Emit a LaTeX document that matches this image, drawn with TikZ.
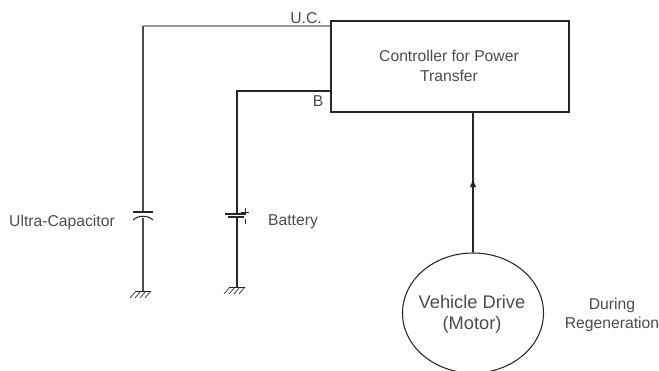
\documentclass[tikz,border=0pt]{standalone}
\usepackage{fontspec}
\setmainfont{Liberation Sans}
\usepackage{tikz}
\usetikzlibrary{shapes.geometric,arrows.meta}
\definecolor{labelgray}{gray}{0.3}
\definecolor{wiregray}{gray}{0.6}
\tikzset{every path/.style={black!85,line width=0.7pt},
  lbl/.style={text=labelgray,font=\fontsize{13.4}{16}\selectfont,align=center,inner sep=0pt},
  plate/.style={line width=0.9pt}}
\newcommand{\grnd}[1]{%
   \begin{scope}[shift={(#1)}]
    \draw[line width=0.6pt] (-8,0) -- (8,0);
    \draw[line width=0.6pt] (-7,0) -- (-13,7);
    \draw[line width=0.6pt] (-2,0) -- (-8,7);
    \draw[line width=0.6pt] ( 3,0) -- (-3,7);
    \draw[line width=0.6pt] ( 8,0) -- ( 2,7);
   \end{scope}}

\begin{document}
\begin{tikzpicture}[x=0.03cm,y=-0.03cm]
   \useasboundingbox (0,0) rectangle (659,371);

   \node[draw,line width=1.1pt,minimum width=7.14cm,minimum height=2.73cm,inner sep=0pt] (ctrl) at (450,66.5) {};
   \node[lbl] (ctrltxt) at (449,66) {Controller for Power\\[1pt]Transfer};
   \node[draw,ellipse,line width=0.9pt,minimum width=4.23cm,minimum height=3.6cm,inner sep=0pt] (motor) at (473,313) {};
   \node[lbl,font=\fontsize{15.6}{18}\selectfont] (motortxt) at (472,314) {Vehicle Drive\\(Motor)};

   \node[lbl] (uc) at (306,18) {U.C.};
   \node[lbl] (b) at (318,101) {B};
   \node[lbl] (ultra) at (62,222) {Ultra-Capacitor};
   \node[lbl] (batt) at (293,222) {Battery};
   \node[lbl] (regen) at (612,315) {During\\Regeneration};

   \coordinate (uccorner) at (143,26);
   \coordinate (ctop) at (143,212);
   \coordinate (cbot) at (143,218);
   \coordinate (cgnd) at (143,291);
   \coordinate (bcorner) at (237,91);
   \coordinate (btop) at (237,213);
   \coordinate (bbot) at (237,216);
   \coordinate (bgnd) at (237,287);
   \coordinate (tip) at (473,179);

   % ultra capacitor branch
   \draw[wiregray,line width=2pt] (ctrl.west |- uccorner) -- (uccorner);
   \draw[black!70,line width=1.2pt] (uccorner) -- (ctop);
   \draw[black!70,line width=1.2pt] (cbot) -- (cgnd);
   \draw[plate] (133,212) -- (153,212);
   \draw[plate] (133,220) .. controls (138,215) and (148,215) .. (153,220);
   \grnd{cgnd}

   % battery branch
   \draw[line width=1pt] (ctrl.west |- bcorner) -- (bcorner) -- (btop);
   \draw[line width=1pt] (bbot) -- (bgnd);
   \draw[line width=1.6pt] (225,214) -- (246,214);
   \draw[plate] (228,217) -- (244,217);
   \draw[line width=0.8pt] (245,208) -- (245,215);
   \draw[line width=0.8pt] (241,212) -- (249,212);
   \draw[line width=0.8pt] (245,219) -- (245,224);
   \grnd{bgnd}

   % power flow
   \draw[line width=1.3pt] (motor.north) -- (motor.north |- ctrl.south);
   \draw[-{Latex[length=7pt,width=6pt]},line width=1.3pt] (motor.north) -- (tip);
\end{tikzpicture}
\end{document}
